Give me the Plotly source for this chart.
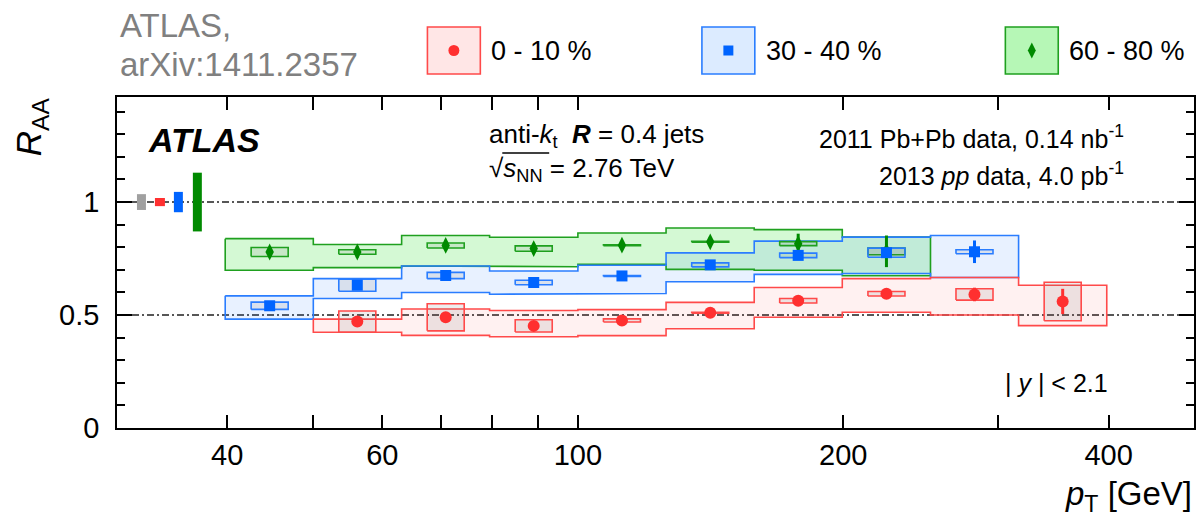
import math
import plotly.graph_objects as go

# ---------------------------------------------------------------- data
# pT bin edges [GeV] (10 bins per decade)
bin_edges = [39.8, 50.1, 63.1, 79.4, 100.0, 125.9, 158.5, 199.5, 251.2, 316.2, 398.1]

# 0-10 % centrality (bins 2..10)
first_bin_0_10 = 1
pt_0_10 = [56.2, 70.8, 89.1, 112.2, 141.3, 177.8, 223.9, 281.8, 354.8]
raa_0_10 = [0.471, 0.490, 0.452, 0.476, 0.510, 0.563, 0.594, 0.591, 0.560]
stat_0_10 = [0.010, 0.010, 0.010, 0.010, 0.010, 0.010, 0.012, 0.030, 0.056]
uncor_0_10 = [0.047, 0.060, 0.027, 0.007, 0.002, 0.010, 0.010, 0.025, 0.085]
cor_lo_0_10 = [0.424, 0.410, 0.404, 0.409, 0.439, 0.490, 0.512, 0.500, 0.453]
cor_hi_0_10 = [0.482, 0.527, 0.520, 0.524, 0.556, 0.622, 0.661, 0.666, 0.632]

# 30-40 % centrality (bins 1..9)
first_bin_30_40 = 0
pt_30_40 = [44.7, 56.2, 70.8, 89.1, 112.2, 141.3, 177.8, 223.9, 281.8]
raa_30_40 = [0.541, 0.632, 0.675, 0.644, 0.673, 0.722, 0.764, 0.776, 0.780]
stat_30_40 = [0.010, 0.010, 0.010, 0.010, 0.010, 0.010, 0.015, 0.020, 0.050]
uncor_30_40 = [0.016, 0.027, 0.014, 0.010, 0.002, 0.009, 0.010, 0.020, 0.009]
cor_lo_30_40 = [0.482, 0.573, 0.600, 0.592, 0.595, 0.647, 0.680, 0.684, 0.666]
cor_hi_30_40 = [0.585, 0.661, 0.717, 0.695, 0.720, 0.775, 0.827, 0.845, 0.852]

# 60-80 % centrality (bins 1..8)
first_bin_60_80 = 0
pt_60_80 = [44.7, 56.2, 70.8, 89.1, 112.2, 141.3, 177.8, 223.9]
raa_60_80 = [0.779, 0.779, 0.808, 0.794, 0.809, 0.824, 0.816, 0.782]
stat_60_80 = [0.020, 0.025, 0.020, 0.020, 0.015, 0.020, 0.044, 0.070]
uncor_60_80 = [0.020, 0.010, 0.011, 0.012, 0.002, 0.002, 0.009, 0.015]
cor_lo_60_80 = [0.698, 0.710, 0.717, 0.714, 0.724, 0.702, 0.698, 0.674]
cor_hi_60_80 = [0.838, 0.812, 0.852, 0.844, 0.863, 0.885, 0.878, 0.845]

# normalisation uncertainties drawn at R_AA = 1 (pp luminosity, T_AA 0-10 %, 30-40 %, 60-80 %)
norm_labels = ["lumi", "0-10 %", "30-40 %", "60-80 %"]
norm_unc = [0.035, 0.018, 0.045, 0.130]

y_tick_vals = [0, 0.5, 1]
y_tick_text = ["0", "0.5", "1"]
x_tick_vals = [40, 60, 100, 200, 400]
x_tick_text = ["40", "60", "100", "200", "400"]
x_minor_vals = [40, 50, 60, 70, 80, 90, 100, 200, 300, 400]

# ---------------------------------------------------------------- style
FONT = "Liberation Sans, Arial, Helvetica, sans-serif"
RED, BLUE, GREEN, GREY = "#ff3030", "#0064ff", "#008a00", "#a0a0a0"
RED_LINE, BLUE_LINE, GREEN_LINE = "#ff4a4a", "#2a7dff", "#1fa01f"
RED_FILL, BLUE_FILL, GREEN_FILL = "rgba(255,60,60,0.07)", "rgba(30,120,255,0.10)", "rgba(40,225,40,0.20)"
BOX_FILL = "rgba(110,110,110,0.12)"
NARROW_HALF_DEC = 0.021  # half width of the uncorrelated-systematics boxes (decades)

W_PX, H_PX = 1202, 530
FR_L, FR_R, FR_T, FR_B = 117, 1196, 97, 428
X_RANGE = [math.log10(30), math.log10(500)]
Y_RANGE = [0, 1.465]


def xp(px):
    return (px - FR_L) / (FR_R - FR_L)


def yp(py):
    return (FR_B - py) / (FR_B - FR_T)


def band_outline(lo_edges, hi_edges, lo, hi):
    xs, ys = [], []
    for a, b, h in zip(lo_edges, hi_edges, hi):
        xs += [a, b]
        ys += [h, h]
    for a, b, l in reversed(list(zip(lo_edges, hi_edges, lo))):
        xs += [b, a]
        ys += [l, l]
    xs.append(xs[0])
    ys.append(ys[0])
    return xs, ys


def rects(x0s, x1s, y0s, y1s):
    xs, ys = [], []
    for a, b, c, d in zip(x0s, x1s, y0s, y1s):
        xs += [a, b, b, a, a, None]
        ys += [c, c, d, d, c, None]
    return xs, ys


fig = go.Figure()

series = [
    ("60-80", first_bin_60_80, pt_60_80, raa_60_80, stat_60_80, uncor_60_80, cor_lo_60_80, cor_hi_60_80,
     GREEN, GREEN_LINE, GREEN_FILL, "diamond-tall", 12),
    ("30-40", first_bin_30_40, pt_30_40, raa_30_40, stat_30_40, uncor_30_40, cor_lo_30_40, cor_hi_30_40,
     BLUE, BLUE_LINE, BLUE_FILL, "square", 11),
    ("0-10", first_bin_0_10, pt_0_10, raa_0_10, stat_0_10, uncor_0_10, cor_lo_0_10, cor_hi_0_10,
     RED, RED_LINE, RED_FILL, "circle", 12),
]

# correlated systematics: filled bands over full bins
for name, fb, pt, raa, st, un, lo, hi, col, lcol, fcol, sym, msz in series:
    e0 = bin_edges[fb:fb + len(pt)]
    e1 = bin_edges[fb + 1:fb + 1 + len(pt)]
    rx, ry = rects(e0, e1, lo, hi)
    fig.add_trace(go.Scatter(x=rx, y=ry, mode="lines", fill="toself", fillcolor=fcol,
                             line=dict(color="rgba(0,0,0,0)", width=0), hoverinfo="skip",
                             showlegend=False))
for name, fb, pt, raa, st, un, lo, hi, col, lcol, fcol, sym, msz in series:
    e0 = bin_edges[fb:fb + len(pt)]
    e1 = bin_edges[fb + 1:fb + 1 + len(pt)]
    ox, oy = band_outline(e0, e1, lo, hi)
    fig.add_trace(go.Scatter(x=ox, y=oy, mode="lines", line=dict(color=lcol, width=1.6),
                             hoverinfo="skip", showlegend=False))

# uncorrelated systematics: narrow open boxes
for name, fb, pt, raa, st, un, lo, hi, col, lcol, fcol, sym, msz in series:
    bx0 = [p * 10 ** (-NARROW_HALF_DEC) for p in pt]
    bx1 = [p * 10 ** (NARROW_HALF_DEC) for p in pt]
    by0 = [r - u for r, u in zip(raa, un)]
    by1 = [r + u for r, u in zip(raa, un)]
    rx, ry = rects(bx0, bx1, by0, by1)
    fig.add_trace(go.Scatter(x=rx, y=ry, mode="lines", fill="toself", fillcolor=BOX_FILL,
                             line=dict(color=lcol, width=1.6), hoverinfo="skip", showlegend=False))

# points with statistical errors
for name, fb, pt, raa, st, un, lo, hi, col, lcol, fcol, sym, msz in series:
    fig.add_trace(go.Scatter(
        x=pt, y=raa, mode="markers", name=name,
        marker=dict(symbol=sym, size=msz, color=col, line=dict(width=0)),
        error_y=dict(type="data", array=st, color=col, thickness=3, width=0),
        showlegend=False))

shapes = []
# dashed reference lines
for yv in (1.0, 0.5):
    shapes.append(dict(type="line", xref="paper", yref="y", x0=0, x1=1, y0=yv, y1=yv,
                       line=dict(color="#202020", width=1.6, dash="7px,3px,2px,3px"), layer="below"))

# normalisation boxes at unity
norm_px = [(137, 146), (155, 165), (174, 183), (193, 202)]
norm_cols = [GREY, RED, BLUE, GREEN]
for (a, b), u, c in zip(norm_px, norm_unc, norm_cols):
    shapes.append(dict(type="rect", xref="paper", yref="y", x0=xp(a), x1=xp(b), y0=1 - u, y1=1 + u,
                       fillcolor=c, line=dict(width=0), layer="above"))

# longer tick at 100 GeV (bottom and top)
for y0, y1 in ((0, 26 / (FR_B - FR_T)), (1 - 26 / (FR_B - FR_T), 1)):
    shapes.append(dict(type="line", xref="x", yref="paper", x0=math.log10(100), x1=math.log10(100),
                       y0=y0, y1=y1, line=dict(color="black", width=1.5)))

annotations = []

# legend boxes
legend_items = [
    ("0 - 10 %", 428, "#ffe6e6", RED_LINE, RED, "circle"),
    ("30 - 40 %", 703, "#dcebff", BLUE_LINE, BLUE, "square"),
    ("60 - 80 %", 1007, "#b6f7b6", GREEN_LINE, GREEN, "diamond"),
]
LEG_T, LEG_B, LEG_W = 27, 74, 53
for text, left, fc, lc, mc, mk in legend_items:
    shapes.append(dict(type="rect", xref="paper", yref="paper", x0=xp(left), x1=xp(left + LEG_W),
                       y0=yp(LEG_B), y1=yp(LEG_T), fillcolor=fc, line=dict(color=lc, width=1.6)))
    cx, cy = left + LEG_W / 2, (LEG_T + LEG_B) / 2
    if mk == "circle":
        shapes.append(dict(type="circle", xref="paper", yref="paper", x0=xp(cx - 5.5), x1=xp(cx + 5.5),
                           y0=yp(cy + 5.5), y1=yp(cy - 5.5), fillcolor=mc, line=dict(width=0)))
    elif mk == "square":
        shapes.append(dict(type="rect", xref="paper", yref="paper", x0=xp(cx - 5), x1=xp(cx + 5),
                           y0=yp(cy + 5), y1=yp(cy - 5), fillcolor=mc, line=dict(width=0)))
    else:
        path = "M {} {} L {} {} L {} {} L {} {} Z".format(
            xp(cx), yp(cy - 8), xp(cx + 4), yp(cy), xp(cx), yp(cy + 8), xp(cx - 4), yp(cy))
        shapes.append(dict(type="path", xref="paper", yref="paper", path=path, fillcolor=mc,
                           line=dict(width=0)))
    annotations.append(dict(text=text, xref="paper", yref="paper", x=xp(left + LEG_W + 9), y=yp(cy),
                            xanchor="left", yanchor="middle", showarrow=False,
                            font=dict(family=FONT, size=27, color="black")))

# header texts
annotations.append(dict(text="ATLAS,", xref="paper", yref="paper", x=xp(118), y=yp(26),
                        xanchor="left", yanchor="middle", showarrow=False,
                        font=dict(family=FONT, size=33, color="#808080")))
annotations.append(dict(text="arXiv:1411.2357", xref="paper", yref="paper", x=xp(118), y=yp(64),
                        xanchor="left", yanchor="middle", showarrow=False,
                        font=dict(family=FONT, size=33, color="#808080")))

# in-frame labels
annotations.append(dict(text="<b><i>ATLAS</i></b>", xref="paper", yref="paper", x=xp(146), y=yp(140),
                        xanchor="left", yanchor="middle", showarrow=False,
                        font=dict(family=FONT, size=34, color="black")))
annotations.append(dict(text="anti-<i>k</i><sub>t</sub>  <b><i>R</i></b> = 0.4 jets", xref="paper",
                        yref="paper", x=xp(488), y=yp(135), xanchor="left", yanchor="middle",
                        showarrow=False, font=dict(family=FONT, size=26, color="black")))
annotations.append(dict(text="\u221a<i>s</i><sub>NN</sub> = 2.76 TeV", xref="paper", yref="paper",
                        x=xp(488), y=yp(169), xanchor="left", yanchor="middle", showarrow=False,
                        font=dict(family=FONT, size=26, color="black")))
shapes.append(dict(type="line", xref="paper", yref="paper", x0=xp(503), x1=xp(550),
                   y0=yp(153), y1=yp(153), line=dict(color="black", width=1.3)))
annotations.append(dict(text="2011 Pb+Pb data, 0.14 nb<sup>-1</sup>", xref="paper", yref="paper",
                        x=xp(1128), y=yp(137), xanchor="right", yanchor="middle", showarrow=False,
                        font=dict(family=FONT, size=25, color="black")))
annotations.append(dict(text="2013 <i>pp</i> data, 4.0 pb<sup>-1</sup>", xref="paper", yref="paper",
                        x=xp(1128), y=yp(174), xanchor="right", yanchor="middle", showarrow=False,
                        font=dict(family=FONT, size=25, color="black")))
annotations.append(dict(text="| <i>y</i> | < 2.1", xref="paper", yref="paper",
                        x=xp(1112), y=yp(383), xanchor="right", yanchor="middle", showarrow=False,
                        font=dict(family=FONT, size=25, color="black")))

# axis titles
annotations.append(dict(text="<i>R</i><sub>AA</sub>", xref="paper", yref="paper", x=xp(31), y=yp(127),
                        xanchor="center", yanchor="middle", textangle=-90, showarrow=False,
                        font=dict(family=FONT, size=35, color="black")))
annotations.append(dict(text="<i>p</i><sub>T</sub> [GeV]", xref="paper", yref="paper",
                        x=1.0, y=yp(496), xanchor="right", yanchor="middle", showarrow=False,
                        font=dict(family=FONT, size=33, color="black")))

fig.update_layout(
    width=W_PX, height=H_PX,
    margin=dict(l=FR_L, r=W_PX - FR_R, t=FR_T, b=H_PX - FR_B, pad=0),
    paper_bgcolor="white", plot_bgcolor="white",
    showlegend=False,
    shapes=shapes, annotations=annotations,
    xaxis=dict(type="log", range=X_RANGE, showgrid=False, zeroline=False,
               showline=True, linecolor="black", linewidth=1.6, mirror="ticks",
               tickmode="array", tickvals=x_tick_vals, ticktext=x_tick_text,
               ticks="inside", ticklen=13, tickwidth=1.5, tickcolor="black",
               minor=dict(tickmode="array", tickvals=x_minor_vals, ticks="inside", ticklen=13,
                          tickwidth=1.5, tickcolor="black", showgrid=False),
               tickfont=dict(family=FONT, size=29, color="black")),
    yaxis=dict(range=Y_RANGE, showgrid=False, zeroline=False,
               showline=True, linecolor="black", linewidth=1.6, mirror="ticks",
               tickmode="array", tickvals=y_tick_vals, ticktext=y_tick_text,
               ticks="inside", ticklen=15, tickwidth=1.5, tickcolor="black",
               minor=dict(dtick=0.1, ticks="inside", ticklen=8, tickwidth=1.5,
                          tickcolor="black", showgrid=False),
               ticklabelstandoff=10,
               tickfont=dict(family=FONT, size=29, color="black")),
)

fig.write_html("out.html")
